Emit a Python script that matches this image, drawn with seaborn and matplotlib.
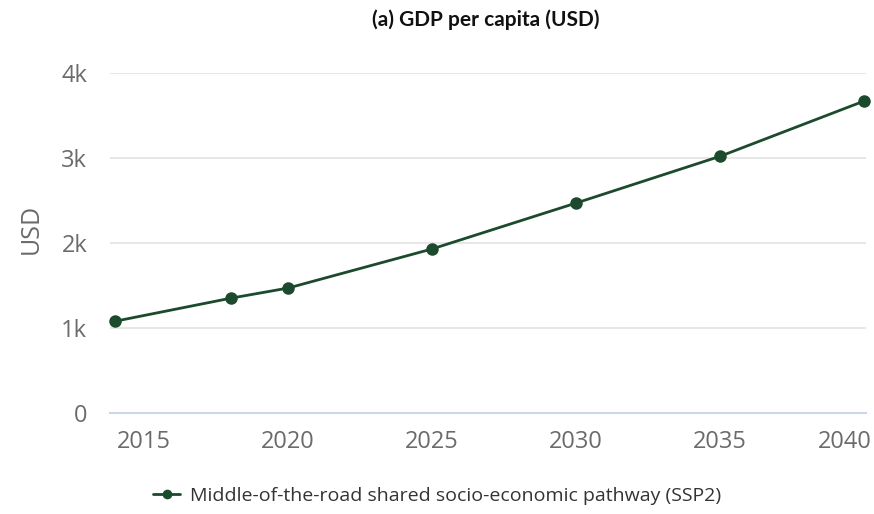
import pandas as pd
import matplotlib.pyplot as plt
import matplotlib.ticker as mticker
import matplotlib.transforms as mtransforms
import seaborn as sns

# ── Data ───────────────────────────────────────────────────────────────────────
YEARS = [2014, 2018, 2020, 2025, 2030, 2035, 2040]
GDP_PC = [1080, 1350, 1470, 1930, 2470, 3020, 3670]
SERIES = "Middle-of-the-road shared socio-economic pathway (SSP2)"
X_TICKS = [2015, 2020, 2025, 2030, 2035, 2040]
Y_TICKS = [0, 1000, 2000, 3000, 4000]
Y_LABELS = ["0", "1k", "2k", "3k", "4k"]

LINE_COLOR = "#1b4a2c"
GRID_COLOR = "#e3e3e3"
TEXT_GRAY = "#6b6b6b"

df = pd.DataFrame({"year": YEARS, "gdp": GDP_PC, "series": SERIES})

# ── Plot ───────────────────────────────────────────────────────────────────────
sns.set_theme(style="white")
plt.rcParams["font.family"] = ["Open Sans", "DejaVu Sans"]

fig = plt.figure(figsize=(8.74, 5.14), dpi=100)
ax = fig.add_axes([0.126, 0.1965, 0.865, 0.6615])

sns.lineplot(data=df, x="year", y="gdp", hue="series", palette=[LINE_COLOR],
             marker="o", markersize=9, markeredgewidth=0, linewidth=2,
             ax=ax, legend=False)
for line in ax.lines:
    line.set_clip_on(False)

ax.set_xlim(2013.82, 2040.07)
ax.set_ylim(0, 4000)
ax.set_xticks(X_TICKS)
ax.set_yticks(Y_TICKS)
ax.yaxis.set_major_formatter(mticker.FixedFormatter(Y_LABELS))
ax.grid(axis="y", color=GRID_COLOR, linewidth=1.2)
ax.set_axisbelow(True)
for side in ["top", "right", "left"]:
    ax.spines[side].set_visible(False)
ax.spines["bottom"].set_color("#ccd6eb")
ax.spines["bottom"].set_linewidth(1.5)
ax.tick_params(axis="x", length=9, width=1, color="#ccd6eb", colors=TEXT_GRAY,
               labelsize=17, pad=3)
ax.tick_params(axis="y", length=0, colors=TEXT_GRAY, labelsize=17, pad=16.5)

# last x label sits a bit left of its tick so it stays inside the figure
last = ax.get_xticklabels()[-1]
last.set_horizontalalignment("right")
last.set_transform(last.get_transform() +
                   mtransforms.ScaledTranslation(8 / 100, 0, fig.dpi_scale_trans))

ax.set_xlabel("")
ax.set_ylabel("USD", fontsize=18, color=TEXT_GRAY)
ax.yaxis.set_label_coords(-0.088, 0.54)

fig.text(0.556, 0.961, "(a) GDP per capita (USD)", ha="center", va="center",
         fontsize=15, fontweight="bold", color="#111111", family=["Lato", "DejaVu Sans"])

# legend below the chart
handle = plt.Line2D([], [], color=LINE_COLOR, marker="o", markersize=7,
                    markeredgewidth=0, linewidth=2)
fig.legend([handle], [SERIES], loc="center", bbox_to_anchor=(0.5, 0.035),
           frameon=False, fontsize=14, labelcolor="#333333",
           handlelength=1.4, handletextpad=0.5)

fig.savefig("out.png", dpi=100)
plt.close(fig)
